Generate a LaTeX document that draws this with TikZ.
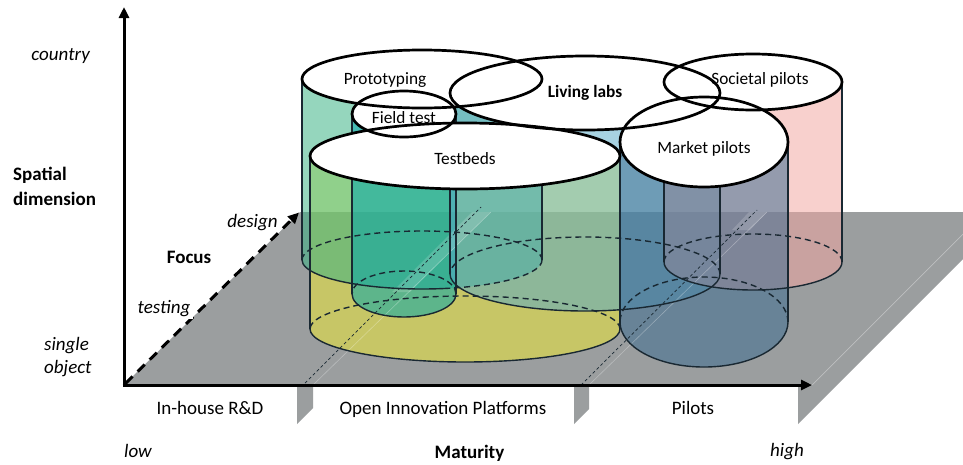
\documentclass[tikz,border=0pt]{standalone}
\usepackage{fontspec}
\setmainfont{Carlito}
\usetikzlibrary{arrows.meta}
\definecolor{floorC}{RGB}{155,158,159}
\definecolor{tbC}{RGB}{239,234,53}
\definecolor{prC}{RGB}{55,178,132}
\definecolor{ftC}{RGB}{0,166,172}
\definecolor{llC}{RGB}{90,170,200}
\definecolor{spC}{RGB}{243,167,161}
\definecolor{mpC}{RGB}{60,108,145}
\definecolor{edgeC}{RGB}{25,40,50}
% cx, ytop, ybot, rx, ry, colour
\newcommand{\cylbody}[6]{%
  \fill[#6, fill opacity=0.53] (#1-#4,#2) -- (#1-#4,#3)
    arc[start angle=180,end angle=360,x radius=#4pt,y radius=#5pt] -- (#1+#4,#2) -- cycle;}
\newcommand{\cylsides}[5]{%
  \draw[sideline] (#1-#4,#2) -- (#1-#4,#3);
  \draw[sideline] (#1+#4,#2) -- (#1+#4,#3);
  \draw[baseline dash] (#1+#4,#3) arc[start angle=0,end angle=180,x radius=#4pt,y radius=#5pt];}
\newcommand{\cylfront}[5]{%
  \draw[baseline solid] (#1-#4,#3) arc[start angle=180,end angle=360,x radius=#4pt,y radius=#5pt];}
\newcommand{\cyltopfill}[5]{%
  \fill[white] (#1,#2) ellipse[x radius=#4pt,y radius=#5pt];}
\newcommand{\cyltopline}[5]{%
  \draw[topline] (#1,#2) ellipse[x radius=#4pt,y radius=#5pt];}
\tikzset{
  sideline/.style={edgeC, line width=1.1pt},
  baseline dash/.style={edgeC, line width=1.4pt, dash pattern=on 6pt off 4pt},
  baseline solid/.style={edgeC, line width=1.4pt},
  topline/.style={black, line width=2.7pt},
  lab/.style={font=\fontsize{17.3}{20}\selectfont, inner sep=0pt},
  axlab/.style={font=\fontsize{19}{22}\selectfont, inner sep=0pt},
  axis/.style={line width=3pt, -{Triangle[length=11pt,width=10pt]}},
  divline/.style={edgeC, line width=0.7pt, dash pattern=on 3pt off 2.5pt},
}
\begin{document}
\begin{tikzpicture}[x=1pt,y=-1pt]
\useasboundingbox (0,0) rectangle (963,464);
\fill[white] (0,0) rectangle (963,464);
% floor and flaps
\fill[floorC] (124,385) -- (300,212) -- (963,212) -- (963,259) -- (798,424) -- (798,385) -- cycle;
\fill[floorC] (297,385) -- (313,385) -- (313,408) -- (297,424) -- cycle;
\fill[floorC] (574,385) -- (589,385) -- (589,409) -- (574,424) -- cycle;
\draw[white, opacity=0.35, line width=0.7pt] (812,385) -- (963,234);
% bodies (back to front in paint order)
\cylbody{465}{156}{329}{155}{33}{tbC}
\cylbody{422}{79}{260}{120}{29}{prC}
\cylbody{404}{114}{294}{52}{23}{ftC}
\cylbody{585}{93}{274}{135}{37}{llC}
\cylbody{753}{82}{262}{89}{28}{spC}
\cylbody{704}{142}{322}{84}{45}{mpC}
% dividers
\fill[white, opacity=0.16] (392,292) -- (410,292) -- (491,212) -- (472,212) -- cycle;
\fill[white, opacity=0.16] (732,230) -- (750,230) -- (767,212) -- (749,212) -- cycle;
\draw[white, opacity=0.3, line width=0.6pt] (313,385) -- (491,212);
\draw[white, opacity=0.3, line width=0.6pt] (589,385) -- (767,212);
\draw[divline] (305,383) -- (481,207);
\draw[divline] (581,385) -- (757,210);
% outlines
\cylsides{465}{156}{329}{155}{33}
\cylsides{422}{79}{260}{120}{29}
\cylsides{404}{114}{294}{52}{23}
\cylsides{585}{93}{274}{135}{37}
\cylsides{753}{82}{262}{89}{28}
\cylsides{704}{142}{322}{84}{45}
\cylfront{465}{156}{329}{155}{33}
\cylfront{404}{114}{294}{52}{23}
\cylfront{585}{93}{274}{135}{37}
\cylfront{753}{82}{262}{89}{28}
\cylfront{704}{142}{322}{84}{45}
\draw[baseline solid] (302,260) arc[start angle=180,end angle=283.5,x radius=120pt,y radius=29pt];
\draw[baseline dash] (542,260) arc[start angle=360,end angle=283.5,x radius=120pt,y radius=29pt];
% tops
\cyltopfill{422}{79}{260}{120}{29}
\cyltopfill{404}{114}{294}{52}{23}
\cyltopfill{465}{156}{329}{155}{33}
\cyltopfill{585}{93}{274}{135}{37}
\cyltopfill{753}{82}{262}{89}{28}
\cyltopfill{704}{142}{322}{84}{45}
\cyltopline{422}{79}{260}{120}{29}
\cyltopline{404}{114}{294}{52}{23}
\cyltopline{465}{156}{329}{155}{33}
\cyltopline{585}{93}{274}{135}{37}
\cyltopline{753}{82}{262}{89}{28}
\cyltopline{704}{142}{322}{84}{45}
% axes
\coordinate (O) at (124,385);
\coordinate (Otop) at (124,386.5);
\coordinate (Oleft) at (122.5,385);
\coordinate (Ydir) at (124,7);
\coordinate (Xdir) at (812,385);
\coordinate (Zfrom) at (125.5,383.5);
\coordinate (Zdir) at (299,212.5);
\draw[axis] (Otop) -- (Ydir);
\draw[axis] (Oleft) -- (Xdir);
\draw[axis, dash pattern=on 10pt off 7pt] (Zfrom) -- (Zdir);
% cylinder labels
\node[lab, anchor=base] (tProto) at (385,84) {Prototyping};
\node[lab, anchor=base] (tField) at (404,123) {Field test};
\node[lab, anchor=base] (tTest) at (465,164) {Testbeds};
\node[lab, anchor=base, font=\fontsize{17.3}{20}\selectfont\bfseries] (tLiving) at (585,97) {Living labs};
\node[lab, anchor=base] (tMarket) at (704,153) {Market pilots};
\node[lab, anchor=base] (tSocietal) at (760,84) {Societal pilots};
% axis labels
\node[axlab, anchor=base east, font=\fontsize{19}{22}\selectfont\itshape] (country) at (90,60) {country};
\node[axlab, anchor=base west, font=\fontsize{19}{22}\selectfont\bfseries] (spatial) at (13,180) {Spatial};
\node[axlab, anchor=base west, font=\fontsize{19}{22}\selectfont\bfseries] (dimension) at (13,205) {dimension};
\node[axlab, anchor=base west, font=\fontsize{19}{22}\selectfont\itshape] (single) at (44,350) {single};
\node[axlab, anchor=base west, font=\fontsize{19}{22}\selectfont\itshape] (object) at (44,373) {object};
\node[axlab, anchor=base, font=\fontsize{19}{22}\selectfont\bfseries] (focus) at (189,263) {Focus};
\node[axlab, anchor=base, font=\fontsize{19}{22}\selectfont\itshape, fill=white, inner sep=2pt] (design) at (252.5,227) {design};
\node[axlab, anchor=base, font=\fontsize{19}{22}\selectfont\itshape, fill=white, inner sep=2.5pt] (testing) at (164,313) {testing};
\node[axlab, anchor=base] (inhouse) at (210,414) {In-house R\&D};
\node[axlab, anchor=base] (oip) at (443,414) {Open Innovation Platforms};
\node[axlab, anchor=base] (pilots) at (693,414) {Pilots};
\node[axlab, anchor=base, font=\fontsize{19}{22}\selectfont\itshape] (low) at (138,457) {low};
\node[axlab, anchor=base, font=\fontsize{19}{22}\selectfont\bfseries] (maturity) at (469.5,458) {Maturity};
\node[axlab, anchor=base, font=\fontsize{19}{22}\selectfont\itshape] (high) at (787,456) {high};
\end{tikzpicture}
\end{document}
